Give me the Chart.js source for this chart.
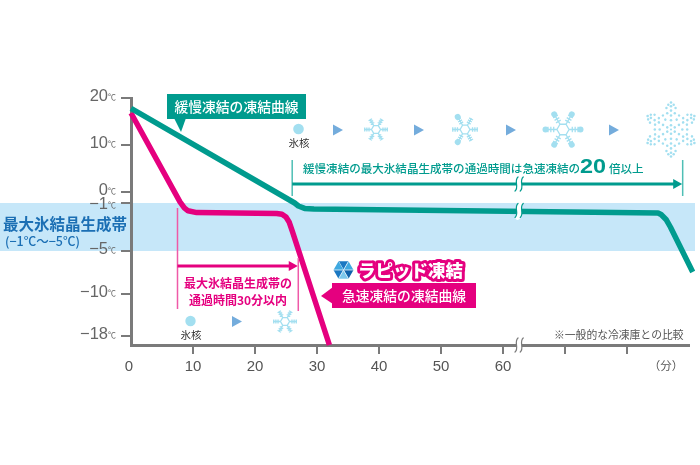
<!DOCTYPE html>
<html lang="ja">
<head>
<meta charset="utf-8">
<title>凍結曲線</title>
<script src="https://cdn.jsdelivr.net/npm/chart.js@4/dist/chart.umd.min.js"></script>
<style>
	html, body { margin: 0; padding: 0; background: #fff; }
	canvas { display: block; }
</style>
</head>
<body>
<canvas id="chart" width="700" height="465"></canvas>
<script>
/* ==========================================================================
 Data
 ========================================================================== */

const slowMinutes = [0, 26.4, 27, 28, 29.5, 85, 85.5, 86.3, 87, 90.6];
const slowTemps = [17.8, -1, -1.25, -1.45, -1.5, -1.83, -1.96, -2.37, -3, -7.44];

const rapidMinutes = [0, 7.9, 8.6, 9.2, 10.6, 23.5, 24.35, 25, 25.5, 26, 32];
const rapidTemps = [16.8, -0.9, -1.4, -1.65, -1.8, -1.87, -1.94, -2.17, -2.58, -3.33, -20];

const xTicks = [0, 10, 20, 30, 40, 50, 60, 70, 80];
const xTickLabels = ['0\u00a0', '10', '20', '30', '40', '50', '60', '', ''];

const yTicks = [20, 10, 0, -1, -5, -10, -18];
const yTickLabels = ['20', '10', '0', '−1', '−5', '−10', '−18'];
const yTickNudge = [-2, -2, -2, 1, -2, -2, -2];

// the temperature axis is not linear: distance below the top of the axis, per stop
const yStops = [20, 10, 0, -1, -5, -10, -18, -20];
const yStopOffsets = [0, 47, 94, 105, 153, 196, 238, 247];

const bandTemps = [-1, -5];

/* ==========================================================================
 Colors
 ========================================================================== */

const TEAL = '#009b8e';
const PINK = '#e5007f';
const GRAY = '#7a7a7a';
const ICE = '#a3dff0';
const ARROW_BLUE = '#74acdc';
const JP = "'Noto Sans CJK JP', sans-serif";
const LATIN = "'Liberation Sans', sans-serif";

/* ==========================================================================
 Broken temperature scale
 ========================================================================== */

class BrokenScale extends Chart.LinearScale {
	getPixelForValue(value) {
		let i = 0;
		while (i < yStops.length - 2 && value < yStops[i + 1]) {
			i++;
		}
		const t = (yStops[i] - value) / (yStops[i] - yStops[i + 1]);
		return this.top + yStopOffsets[i] + t * (yStopOffsets[i + 1] - yStopOffsets[i]);
	}
}
BrokenScale.id = 'broken';
BrokenScale.defaults = Chart.LinearScale.defaults;
Chart.register(BrokenScale);

/* ==========================================================================
 Drawing helpers
 ========================================================================== */

function text(ctx, str, x, y, font, color, align) {
	ctx.font = font;
	ctx.fillStyle = color;
	ctx.textAlign = align || 'left';
	ctx.textBaseline = 'middle';
	ctx.fillText(str, x, y);
}

function triangle(ctx, x, y, w, h, color) {
	ctx.fillStyle = color;
	ctx.beginPath();
	ctx.moveTo(x, y - h / 2);
	ctx.lineTo(x + w, y);
	ctx.lineTo(x, y + h / 2);
	ctx.closePath();
	ctx.fill();
}

function dot(ctx, x, y, r, color) {
	ctx.fillStyle = color;
	ctx.beginPath();
	ctx.arc(x, y, r, 0, Math.PI * 2);
	ctx.fill();
}

function flake(ctx, cx, cy, r, discArms, discR) {
	ctx.save();
	ctx.translate(cx, cy);
	ctx.strokeStyle = ICE;
	ctx.lineWidth = 1.3;
	const hex = r * 0.38;
	ctx.beginPath();
	for (let i = 0; i < 6; i++) {
		const a = i * Math.PI / 3;
		ctx.lineTo(hex * Math.cos(a), hex * Math.sin(a));
	}
	ctx.closePath();
	ctx.stroke();
	for (let i = 0; i < 6; i++) {
		ctx.save();
		ctx.rotate(i * Math.PI / 3);
		ctx.beginPath();
		ctx.moveTo(hex, 0);
		ctx.lineTo(r, 0);
		[0.58, 0.76, 0.94].forEach(f => {
			const s = r * 0.17;
			ctx.moveTo(r * f, -s);
			ctx.lineTo(r * f, s);
		});
		ctx.stroke();
		if (discArms.includes(i)) {
			dot(ctx, r + discR * 0.5, 0, discR, ICE);
		}
		ctx.restore();
	}
	ctx.restore();
}

function dottedFlake(ctx, cx, cy, r) {
	ctx.save();
	ctx.translate(cx, cy);
	dot(ctx, 0, 0, 1.1, ICE);
	for (let i = 0; i < 6; i++) {
		ctx.save();
		ctx.rotate(i * Math.PI / 3 + Math.PI / 6);
		[0.16, 0.34, 0.52, 0.7, 0.86, 1].forEach(f => dot(ctx, r * f, 0, 1.3, ICE));
		[[0.6, 0.14], [0.8, 0.17], [0.92, 0.1]].forEach(p => {
			dot(ctx, r * p[0], r * p[1], 1.25, ICE);
			dot(ctx, r * p[0], -r * p[1], 1.25, ICE);
		});
		ctx.rotate(Math.PI / 6);
		[0.42, 0.6].forEach(f => dot(ctx, r * f, 0, 1.25, ICE));
		ctx.restore();
	}
	ctx.restore();
}

function breakMark(ctx, x, y, color) {
	// white gap with two wavy edges
	const wave = dx => {
		ctx.moveTo(x + dx + 1.5, y - 7);
		ctx.bezierCurveTo(x + dx - 3, y - 3, x + dx + 3, y + 3, x + dx - 1.5, y + 7);
	};
	ctx.save();
	ctx.lineCap = 'round';
	ctx.strokeStyle = '#fff';
	ctx.lineWidth = 5;
	ctx.beginPath();
	wave(0);
	ctx.stroke();
	ctx.strokeStyle = color;
	ctx.lineWidth = 1.2;
	ctx.beginPath();
	wave(-2.6);
	wave(2.6);
	ctx.stroke();
	ctx.restore();
}

function rangeArrow(ctx, x0, x1, y, top0, bottom0, top1, bottom1, color, tickColor) {
	ctx.strokeStyle = tickColor;
	ctx.lineWidth = 1.5;
	ctx.beginPath();
	ctx.moveTo(x0, top0);
	ctx.lineTo(x0, bottom0);
	ctx.moveTo(x1 + 0.5, top1);
	ctx.lineTo(x1 + 0.5, bottom1);
	ctx.stroke();
	ctx.strokeStyle = color;
	ctx.lineWidth = 3;
	ctx.beginPath();
	ctx.moveTo(x0, y);
	ctx.lineTo(x1 - 6, y);
	ctx.stroke();
	triangle(ctx, x1 - 9, y, 9, 10, color);
}

/* ==========================================================================
 Plugins
 ========================================================================== */

const bandPlugin = {
	id: 'band',
	beforeDraw(chart) {
		const {ctx, scales: {y}} = chart;
		const top = y.getPixelForValue(bandTemps[0]);
		const bottom = y.getPixelForValue(bandTemps[1]);
		ctx.save();
		ctx.fillStyle = '#c6e7f9';
		ctx.fillRect(0, top, 695, bottom - top);
		ctx.restore();
	}
};

const annotationPlugin = {
	id: 'annotations',
	afterDatasetsDraw(chart) {
		const {ctx, scales: {x, y}} = chart;
		ctx.save();

		// tick marks on both axes
		ctx.fillStyle = GRAY;
		xTicks.slice(1).forEach(value => {
			ctx.fillRect(Math.round(x.getPixelForValue(value)) - 1, y.bottom, 2, 9);
		});
		yTicks.forEach(value => {
			ctx.fillRect(x.left - 10, Math.round(y.getPixelForValue(value)) - 1, 10, 2);
		});

		// y tick labels with the small degree mark
		yTicks.forEach((value, i) => {
			const py = y.getPixelForValue(value) + yTickNudge[i];
			text(ctx, yTickLabels[i], 108, py, '16.5px ' + LATIN, '#666', 'right');
			text(ctx, '℃', 108, py + 1, '8px ' + JP, '#666');
		});

		// axis and curve breaks
		const breakX = x.getPixelForValue(62.6);
		breakMark(ctx, breakX, y.bottom, GRAY);
		breakMark(ctx, breakX, y.getPixelForValue(-1.62), TEAL);

		// band title
		text(ctx, '最大氷結晶生成帯', 3, 224, 'bold 15.5px ' + JP, '#1b6fb4');
		text(ctx, '(−1℃〜−5℃)', 5, 241, '500 12.5px ' + JP, '#1b6fb4');

		// slow curve callout
		ctx.fillStyle = TEAL;
		ctx.fillRect(167, 94, 139, 25);
		ctx.beginPath();
		ctx.moveTo(174, 118);
		ctx.lineTo(181, 132);
		ctx.lineTo(186, 118);
		ctx.fill();
		text(ctx, '緩慢凍結の凍結曲線', 236.5, 107, '500 13.8px ' + JP, '#fff', 'center');

		// rapid curve callout
		ctx.fillStyle = PINK;
		ctx.fillRect(332, 283, 144, 25);
		ctx.beginPath();
		ctx.moveTo(333, 287);
		ctx.lineTo(321, 296);
		ctx.lineTo(333, 304);
		ctx.fill();
		text(ctx, '急速凍結の凍結曲線', 404, 296, '500 13.8px ' + JP, '#fff', 'center');

		// rapid freeze title
		ctx.font = '900 17.5px ' + JP;
		ctx.textAlign = 'left';
		ctx.textBaseline = 'middle';
		ctx.lineJoin = 'round';
		ctx.strokeStyle = PINK;
		ctx.lineWidth = 6;
		ctx.strokeText('ラピッド凍結', 358, 270);
		ctx.fillStyle = '#fff';
		ctx.fillText('ラピッド凍結', 358, 270);

		// hexagon logo
		const cx = 343.5, cy = 270, r = 10;
		const blues = ['#1a78c2', '#3fa9e0', '#0f62ab', '#7cc7ec', '#1a78c2', '#3fa9e0'];
		ctx.strokeStyle = '#fff';
		ctx.lineWidth = 0.7;
		for (let i = 0; i < 6; i++) {
			const a0 = (i - 0.5) * Math.PI / 3 - Math.PI / 2;
			const a1 = (i + 0.5) * Math.PI / 3 - Math.PI / 2;
			ctx.fillStyle = blues[i];
			ctx.beginPath();
			ctx.moveTo(cx, cy);
			ctx.lineTo(cx + r * Math.cos(a0), cy + r * Math.sin(a0));
			ctx.lineTo(cx + r * Math.cos(a1), cy + r * Math.sin(a1));
			ctx.closePath();
			ctx.fill();
			ctx.beginPath();
			ctx.moveTo(cx, cy);
			ctx.lineTo(cx + r * Math.cos(a0), cy + r * Math.sin(a0));
			ctx.stroke();
		}

		// slow curve: crystal growth row
		dot(ctx, 298.5, 129, 5.3, ICE);
		text(ctx, '氷核', 299, 143.5, '10.5px ' + JP, '#333', 'center');
		triangle(ctx, 333, 130, 10, 11, ARROW_BLUE);
		flake(ctx, 376, 129.5, 12, [], 0);
		triangle(ctx, 414, 130, 10, 11, ARROW_BLUE);
		flake(ctx, 465, 129.5, 13, [2, 4], 3);
		triangle(ctx, 506, 130, 10, 11, ARROW_BLUE);
		flake(ctx, 563, 129.5, 16, [0, 1, 2, 3, 4, 5], 3);
		triangle(ctx, 609, 130, 10, 11, ARROW_BLUE);
		dottedFlake(ctx, 671, 129.5, 27);

		// slow curve: time range
		const slowFrom = x.getPixelForValue(26);
		const slowTo = x.getPixelForValue(88.9);
		rangeArrow(ctx, slowFrom, slowTo, 184, 160, 196, 160, 196, TEAL, '#4fbfb5');
		breakMark(ctx, breakX, 184, TEAL);
		text(ctx, '緩慢凍結の最大氷結晶生成帯の通過時間は急速凍結の', 303, 169, '500 11.55px ' + JP, TEAL);
		ctx.save();
		ctx.translate(580, 167);
		ctx.scale(1.17, 1);
		text(ctx, '20', 0, 0, 'bold 20px ' + LATIN, TEAL);
		ctx.restore();
		text(ctx, '倍以上', 609, 169, '500 11.55px ' + JP, TEAL);

		// rapid curve: time range
		const rapidFrom = x.getPixelForValue(7.5);
		const rapidTo = x.getPixelForValue(26.9);
		rangeArrow(ctx, rapidFrom, rapidTo, 266, 208, 309, 258, 311, PINK, '#ef5aa8');
		text(ctx, '最大氷結晶生成帯の', 238, 283, 'bold 12px ' + JP, PINK, 'center');
		text(ctx, '通過時間30分以内', 238, 300, 'bold 12px ' + JP, PINK, 'center');

		// rapid curve: crystal growth row
		dot(ctx, 190.5, 321, 5.2, ICE);
		text(ctx, '氷核', 191, 335, '10.5px ' + JP, '#333', 'center');
		triangle(ctx, 232, 321.5, 10, 11, ARROW_BLUE);
		flake(ctx, 285, 321.5, 12, [], 0);

		// notes
		text(ctx, '※一般的な冷凍庫との比較', 554, 335, '10.8px ' + JP, '#555');
		text(ctx, '（分）', 666, 366, '11.5px ' + JP, '#555', 'center');

		ctx.restore();
	}
};

/* ==========================================================================
 Config
 ========================================================================== */

const toPoints = (xs, ys) => xs.map((value, i) => ({x: value, y: ys[i]}));

const config = {
	type: 'line',
	data: {
		datasets: [
			{
				label: '緩慢凍結の凍結曲線',
				data: toPoints(slowMinutes, slowTemps),
				borderColor: TEAL,
				borderWidth: 5.5,
				clip: false,
			},
			{
				label: '急速凍結の凍結曲線',
				data: toPoints(rapidMinutes, rapidTemps),
				borderColor: PINK,
				borderWidth: 5.5,
				clip: false,
			},
		],
	},
	options: {
		responsive: false,
		animation: false,
		layout: {
			padding: {left: 71, right: 11, top: 98, bottom: 80},
		},
		elements: {
			point: {radius: 0},
			line: {tension: 0, borderJoinStyle: 'round', borderCapStyle: 'butt'},
		},
		plugins: {
			legend: {display: false},
			tooltip: {enabled: false},
		},
		scales: {
			x: {
				type: 'linear',
				min: 0,
				max: 90,
				afterFit(scale) {
					scale.height = 40;
				},
				afterBuildTicks(scale) {
					scale.ticks = xTicks.map(value => ({value}));
				},
				border: {color: GRAY, width: 3},
				grid: {drawOnChartArea: false, tickLength: 9, tickColor: 'transparent'},
				ticks: {
					autoSkip: false,
					maxRotation: 0,
					padding: 4,
					color: '#555',
					font: {family: 'Liberation Sans', size: 15},
					callback: (value) => xTickLabels[xTicks.indexOf(value)],
				},
			},
			y: {
				type: 'broken',
				min: -20,
				max: 20,
				afterFit(scale) {
					scale.width = 60;
				},
				afterBuildTicks(scale) {
					scale.ticks = yTicks.map(value => ({value}));
				},
				border: {color: GRAY, width: 3},
				grid: {drawOnChartArea: false, drawTicks: false},
				ticks: {display: false},
			},
		},
	},
	plugins: [bandPlugin, annotationPlugin],
};

/* ==========================================================================
 Render
 ========================================================================== */

new Chart(document.getElementById('chart'), config);
</script>
</body>
</html>
